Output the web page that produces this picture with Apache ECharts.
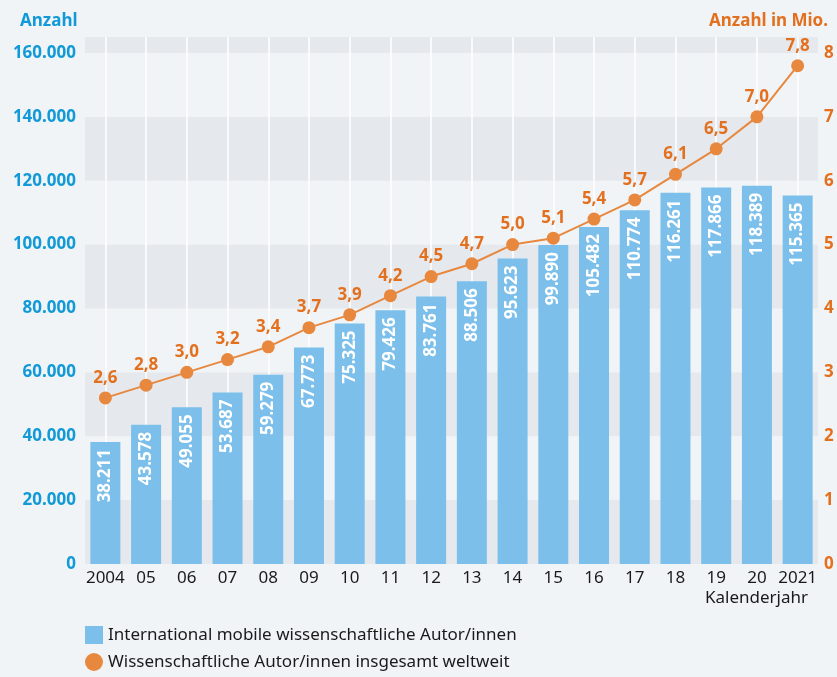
<!DOCTYPE html>
<html>
<head>
<meta charset="utf-8">
<script src="https://cdn.jsdelivr.net/npm/echarts@6/dist/echarts.min.js"></script>
<style>
  html,body{margin:0;padding:0;background:#f1f4f6;}
  #main{width:837px;height:677px;}
</style>
</head>
<body>
<div id="main"></div>
<script>
var years = ['2004','05','06','07','08','09','10','11','12','13','14','15','16','17','18','19','20','2021'];
var mobileAuthors = [38211,43578,49055,53687,59279,67773,75325,79426,83761,88506,95623,99890,105482,110774,116261,117866,118389,115365];
var allAuthors = [2.6,2.8,3.0,3.2,3.4,3.7,3.9,4.2,4.5,4.7,5.0,5.1,5.4,5.7,6.1,6.5,7.0,7.8];
var barName = 'International mobile wissenschaftliche Autor/innen';
var lineName = 'Wissenschaftliche Autor/innen insgesamt weltweit';

var blue = '#129ad8';
var orange = '#e3701f';
var font = 'Noto Sans';

function dotted(n){
  return String(n).replace(/\B(?=(\d{3})+(?!\d))/g, '.');
}

var legendText = {color: '#1a1a1a', fontSize: 17, fontFamily: font};

var myChart = echarts.init(document.getElementById('main'));
var option = {
  backgroundColor: '#f1f4f6',
  textStyle: {fontFamily: font},
  title: [
    {text: 'Anzahl', left: 15, top: 8, textStyle: {color: blue, fontSize: 17, fontWeight: 'bold', fontFamily: font}},
    {text: 'Anzahl in Mio.', right: 4, top: 8, textStyle: {color: orange, fontSize: 17, fontWeight: 'bold', fontFamily: font}},
    {text: 'Kalenderjahr', right: 24, top: 585, textStyle: {color: '#1a1a1a', fontSize: 17, fontWeight: 'normal', fontFamily: font}}
  ],
  legend: [
    {
      left: 80, top: 621, itemWidth: 18, itemHeight: 18, itemGap: 10,
      textStyle: legendText,
      data: [{name: barName, icon: 'rect'}]
    },
    {
      left: 80, top: 648, itemWidth: 18, itemHeight: 18, itemGap: 10,
      textStyle: legendText,
      data: [{name: lineName, icon: 'circle'}]
    }
  ],
  grid: {left: 85, right: 19, top: 37, bottom: 113},
  xAxis: {
    type: 'category',
    data: years,
    axisLine: {show: false},
    axisTick: {show: false},
    axisLabel: {color: '#1a1a1a', fontSize: 17, margin: 6, interval: 0, fontFamily: font},
    splitLine: {show: true, alignWithLabel: true, lineStyle: {color: '#ffffff', width: 1.5}}
  },
  yAxis: [
    {
      type: 'value',
      min: 0,
      max: 165000,
      interval: 20000,
      axisLine: {show: false},
      axisTick: {show: false},
      splitLine: {show: false},
      splitArea: {show: true, areaStyle: {color: ['#e5e9ed', '#f1f4f6']}},
      axisLabel: {
        color: blue, fontSize: 17, fontWeight: 'bold', margin: 9, fontFamily: font,
        formatter: function(v){ return v > 160000 ? '' : dotted(v); }
      }
    },
    {
      type: 'value',
      min: 0,
      max: 8.25,
      interval: 1,
      position: 'right',
      axisLine: {show: false},
      axisTick: {show: false},
      splitLine: {show: false},
      axisLabel: {
        color: orange, fontSize: 17, fontWeight: 'bold', margin: 6, fontFamily: font,
        formatter: function(v){ return v > 8 ? '' : String(v); }
      }
    }
  ],
  series: [
    {
      name: barName,
      type: 'bar',
      data: mobileAuthors,
      barWidth: 30,
      itemStyle: {color: '#7bbfea'},
      label: {
        show: true,
        position: 'insideTop',
        rotate: 90,
        align: 'right',
        verticalAlign: 'middle',
        distance: 7,
        color: '#ffffff',
        fontSize: 17,
        fontWeight: 'bold',
        fontFamily: font,
        formatter: function(p){ return dotted(p.value); }
      },
      z: 2
    },
    {
      name: lineName,
      type: 'line',
      yAxisIndex: 1,
      data: allAuthors,
      symbol: 'circle',
      symbolSize: 13,
      itemStyle: {color: '#e8883f'},
      lineStyle: {color: '#e8883f', width: 2},
      label: {
        show: true,
        position: 'top',
        distance: 5,
        color: orange,
        fontSize: 17,
        fontWeight: 'bold',
        fontFamily: font,
        formatter: function(p){ return p.value.toFixed(1).replace('.', ','); }
      },
      z: 3
    }
  ]
};
myChart.setOption(option);
</script>
</body>
</html>
